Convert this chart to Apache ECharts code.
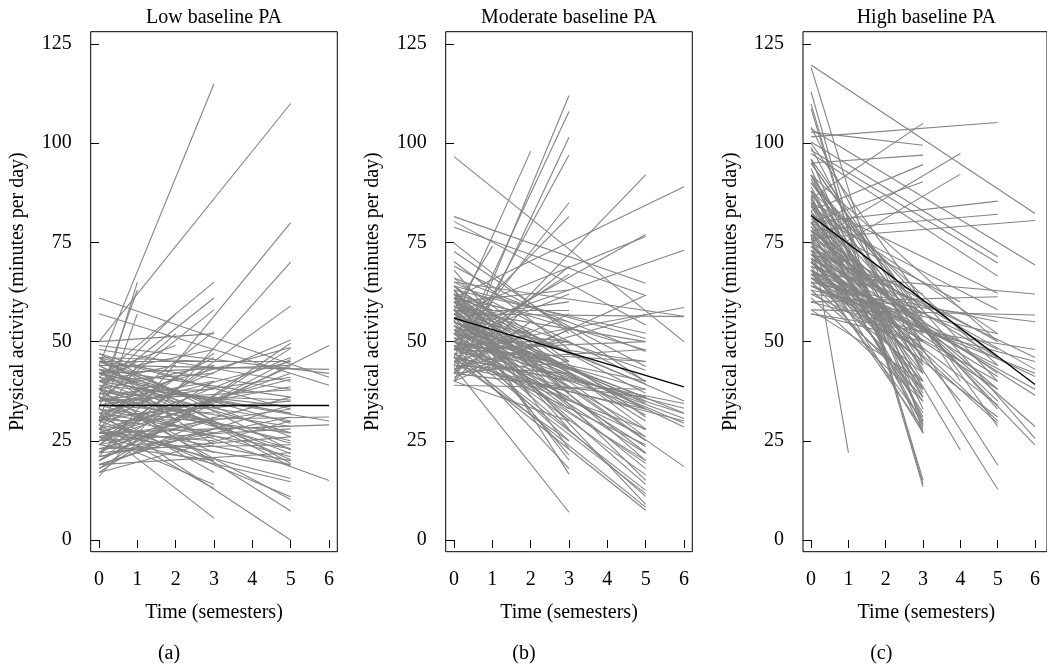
<!DOCTYPE html>
<html>
<head>
<meta charset="utf-8">
<script src="https://cdn.jsdelivr.net/npm/echarts@6/dist/echarts.min.js"></script>
<style>
  html, body { margin: 0; padding: 0; background: #ffffff; }
  #chart { width: 1047px; height: 667px; }
</style>
</head>
<body>
<div id="chart"></div>
<script>
// ---------- tick labels / text ----------
const xTicks = [0, 1, 2, 3, 4, 5, 6];
const yTicks = [0, 25, 50, 75, 100, 125];
const panelTitles = ['Low baseline PA', 'Moderate baseline PA', 'High baseline PA'];
const panelLetters = ['(a)', '(b)', '(c)'];
const xName = 'Time (semesters)';
const yName = 'Physical activity (minutes per day)';

// ---------- (a) Low baseline PA : start value, last time, end value ----------
const lowStart = [44,50,21,16,41,38,61,57,33,36,30,38,24,32,28,36,31,36,38,26,29,33,50,30,35,20,44,30,40,27,49,
  44,46,42,40,47,38,45,36,43,41,39,37,35,30,28,25,22,20,18,17,48,43,38,33,31,29,27,26,23,21,19,34,32,35,30,42,45,40,36,34,28,
  42,28,46,25,40,22,37,20,45,34,18,39,32,27,43,36,30,26,24,21,47,40,28,45,20,38,25,35,42,22,30,46,19,27,23,17,24,19,
  42,38,26,23,44,35,31,40,24,33,29,42,46,41,37,25,22,27,31,45];
const lowTime = [3,5,5,5,3,3,6,6,1,1,1,2,5,5,3,6,5,5,5,5,3,3,3,3,3,6,6,6,6,6,6,
  5,5,5,5,5,5,5,5,5,5,5,5,5,5,5,5,5,5,5,5,5,5,5,5,5,5,5,5,5,5,5,5,5,5,5,5,5,5,5,5,5,
  3,3,3,3,3,3,3,3,3,3,3,3,3,3,3,3,3,3,3,3,3,1,1,1,1,1,1,2,2,2,2,2,2,2,5,5,3,5,
  3,3,3,3,3,3,3,2,2,2,1,1,5,5,5,5,5,5,5,5];
const lowEnd = [115,110,80,70,65,61,41,39,65,63,57,57,59,0,5.5,15,10.9,10.2,7.3,14.7,13,17,52,52.5,58,49,43,31,30,29,42,
  18.5,19.3,20.2,21.8,22.7,24.4,26,28.6,29.4,31.9,33.6,35.3,37.8,38.6,40.5,42,43.7,45.5,48.3,49.6,40,36,30,27,23,20,19,33,36,31,34,41,45,48.5,50.4,44,38,32,25,21,15.5,
  48,47,45,44,42,40,38,36,34,32,31,29,27,25,24,22,20,14,30,28,38,45,38,42,27,35,30,52,49,38,41,30,25,33,24,30,20,22,
  35,44,35,26,30,40,46,44,35,29,44,40,33,27,23,28,26,46,35,45];
const lowMean = [34, 34];

// ---------- (b) Moderate baseline PA ----------
const modStart = [96.6,42,46,40,44,55,48,52,42,61,50,57,53,81.5,78.8,45,48,50,58,43.5,
  80.3,74.8,72.7,70.2,69,68,66,65,57,48,64,63,62,61,60,60,59,58,57,56,55,54,53,52,51,50,49,47,46,62,58,60,55,52,50,48,45,43,40,
  59,56,54,52,50,48,46,62,58,55,52,60,57,54,50,48,46,44,42,53,41,56,43,64,61,58,55,52,49,42,40,63,60,50,45,64,61,59,57,63,46,44,42,65,45,58,40,47,53,39,60,
  55,58,62,50,47,53,60,56,48,52,57,61,54,51,49,59,62,64,50,56,60,55,45,49,63,58,66,46,52,48];
const modTime = [6,3,3,3,3,2,3,3,5,6,5,5,6,5,5,3,3,3,1,3,
  5,3,5,3,5,2,5,6,6,6,5,5,5,3,5,3,5,3,5,5,5,5,5,5,5,5,5,5,5,5,5,5,5,5,5,5,5,5,5,
  6,6,6,6,6,6,6,3,3,3,3,3,3,3,3,3,3,3,3,3,3,3,3,3,2,2,2,2,2,2,2,1,1,1,1,5,5,5,5,5,5,5,5,5,6,5,3,5,5,5,5,
  3,3,3,3,3,3,2,2,2,1,1,1,5,5,5,5,5,5,5,5,6,6,3,3,3,3,3,2,5,5];
const modEnd = [50,112,108,101.5,97,98,85,81.5,92,89,77,76.5,73,64.7,61.6,69,67,62,74,7,
  54.2,52,39.9,48,43.7,45,47.5,56.4,56.3,58.6,50.8,52.1,47.9,55,42.8,63,39.3,58,34.4,31.5,27.7,23.5,21.8,19.3,16.4,12.5,11.7,8.3,7.5,20,25,30,35,38,40,45,48,56.7,61.7,
  18.5,28.5,29.4,30.6,31.9,33.2,34.4,16.6,20.1,21.4,25,28,30,33,36,38,40,42,45,50,53,60,57,37,36,40,44,47,50,55,60,52,55,60,48,31,26,22,18,15,28,33,36,40,30,50,30,24,11,38,9,
  45,47,42,43,50,40,48,52,53,56,50,58,36,33,26,33,37,28,20,14,35,32,25,18,23,35,45,42,45,50];
const modMean = [55.9, 38.6];

// ---------- (c) High baseline PA ----------
const highStart = [119.7,119.1,112.9,109.9,108.7,103.6,101.6,86,102.8,95,75,83,70,80,80,78,76,100.3,98.2,97.4,85,77,
  94.9,93.6,91.9,87.7,86.9,86.1,84.4,82.7,90,78,72,68,64,60,57,62,58,65,60,70,74,66,72,80,68,76,88,63,
  96,92,88,85,82,79,76,73,70,67,65,63,61,58,66,69,72,74,78,81,84,71,75,68,62,57,89,99,104,73,80,68,65,90,83,77,71,66,86,74,
  95,79,71,64,67,71,85,90,75,82,69,91,96,100,67,87,73,66,92,80,
  70,72,75,77,80,65,68,73,78,82,85,64,67,70,74,76,78,72,68,80,74,78,70,66,82,69,75,84,88,92];
const highTime = [6,3,3,3,3,6,5,3,3,3,4,3,4,3,5,5,6,5,5,5,5,1,
  5,3,5,5,3,4,3,6,6,6,6,6,6,6,6,6,6,5,5,5,5,5,5,5,5,5,5,5,
  3,3,3,3,3,3,3,3,3,3,3,3,3,3,3,3,3,3,3,3,3,3,3,3,3,3,3,3,3,2,2,2,2,2,2,2,1,1,1,1,
  4,4,4,4,5,5,5,5,5,5,3,3,3,3,6,3,6,2,5,4,
  3,3,3,3,3,3,3,3,3,3,3,2,2,2,2,2,2,1,1,1,5,5,5,5,5,6,6,5,3,3];
const highEnd = [82.3,27,14,13.4,15.1,69.3,105.2,105,99.5,97,97.4,94.6,92.2,90.3,85.4,82.1,80.5,71.4,69.8,66.5,62.2,22,
  28.6,29.4,18.9,12.8,26.9,22.7,28.6,23.9,25.6,28.6,36.5,41.2,42,45,48,55,56.7,55,61.3,41.2,46,31,29.4,35,38,50,44,52,
  30,33,36,40,43,46,48,50,52,45,42,38,35,40,57,60,62,55,58,53,50,35,32,30,48,50,38,45,48,50,55,57,60,64,48,62,60,62,65,66,
  40,35,45,50,44,48,33,40,42,58,28,42,56,60,62,55,46,53,50,60,
  40,44,38,42,36,36,47,27,29,31,37,55,48,52,58,46,54,64,58,68,30,38,34,40,46,38,43,52,44,52];
const highMean = [81.7, 39.2];

// ---------- build ----------
const FONT = 'Liberation Serif';
const FS = 20;
const GRAY = '#838383';
const panels = [
  { start: lowStart, time: lowTime, end: lowEnd, mean: lowMean },
  { start: modStart, time: modTime, end: modEnd, mean: modMean },
  { start: highStart, time: highTime, end: highEnd, mean: highMean }
];
const gridLefts = [90.7, 445.7, 803];
const gridTop = 31.7, gridH = 520, gridW = 246.6;

const grids = [], xAxes = [], yAxes = [], series = [], graphics = [];
panels.forEach((p, i) => {
  grids.push({ left: gridLefts[i], top: gridTop, width: i === 2 ? gridW + 4 : gridW, height: gridH,
    show: true, borderColor: '#000', borderWidth: 1, backgroundColor: 'transparent', containLabel: false });
  xAxes.push({ type: 'value', gridIndex: i, min: -0.217, max: i === 2 ? 6.321 : 6.217,
    axisLine: { show: false }, splitLine: { show: false },
    axisTick: { show: true, customValues: xTicks, length: 8, inside: false, lineStyle: { color: '#000', width: 1 } },
    axisLabel: { customValues: xTicks, margin: 18, fontFamily: FONT, fontSize: FS, color: '#000' } });
  yAxes.push({ type: 'value', gridIndex: i, min: -2.95, max: 128.1,
    axisLine: { show: false }, splitLine: { show: false },
    axisTick: { show: true, customValues: yTicks, length: 8, inside: false, lineStyle: { color: '#000', width: 1 } },
    axisLabel: { customValues: yTicks, margin: 19, fontFamily: FONT, fontSize: FS, color: '#000' } });
  const data = p.start.map((s, k) => ({ coords: [[0, s], [p.time[k], p.end[k]]] }));
  series.push({ type: 'lines', coordinateSystem: 'cartesian2d', xAxisIndex: i, yAxisIndex: i,
    polyline: false, silent: true, z: 2,
    lineStyle: { color: GRAY, width: 1.1, opacity: 1, curveness: 0 }, data: data });
  series.push({ type: 'lines', coordinateSystem: 'cartesian2d', xAxisIndex: i, yAxisIndex: i,
    polyline: false, silent: true, z: 3,
    lineStyle: { color: '#000', width: 1.4, opacity: 1, curveness: 0 },
    data: [{ coords: [[0, p.mean[0]], [6, p.mean[1]]] }] });

  const cx = gridLefts[i] + gridW / 2;
  const font = FS + 'px "' + FONT + '"';
  graphics.push({ type: 'text', x: cx, y: 18, style: { text: panelTitles[i], font: font, fill: '#000', align: 'center', verticalAlign: 'middle' } });
  graphics.push({ type: 'text', x: cx, y: 613, style: { text: xName, font: font, fill: '#000', align: 'center', verticalAlign: 'middle' } });
  graphics.push({ type: 'text', x: cx - 45, y: 654, style: { text: panelLetters[i], font: font, fill: '#000', align: 'center', verticalAlign: 'middle' } });
  graphics.push({ type: 'text', x: gridLefts[i] - 72.7, y: gridTop + gridH / 2, rotation: Math.PI / 2,
    style: { text: yName, font: font, fill: '#000', align: 'center', verticalAlign: 'middle' } });
});

const chart = echarts.init(document.getElementById('chart'), null, { renderer: 'canvas' });
chart.setOption({
  animation: false,
  backgroundColor: '#ffffff',
  grid: grids, xAxis: xAxes, yAxis: yAxes, series: series, graphic: graphics
});
</script>
</body>
</html>
